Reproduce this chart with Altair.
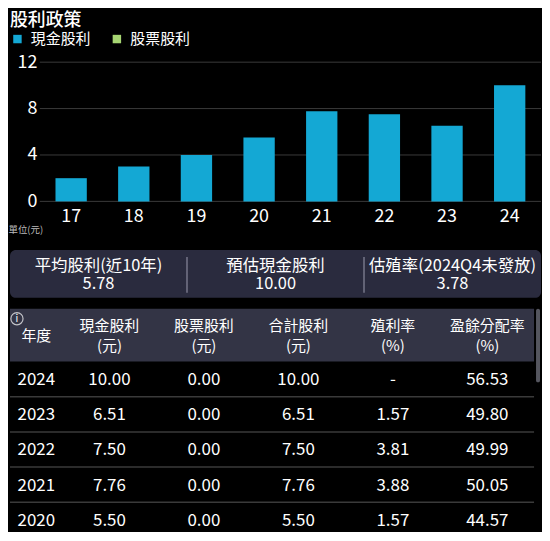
import altair as alt
import pandas as pd

FONT = "Noto Sans CJK TC"

# ---------------- data ----------------
bar_years = ["17", "18", "19", "20", "21", "22", "23", "24"]
cash_dividend = [2.0, 3.0, 4.0, 5.5, 7.76, 7.5, 6.51, 10.0]
stock_dividend = [0.0, 0.0, 0.0, 0.0, 0.0, 0.0, 0.0, 0.0]
series_names = ["現金股利", "股票股利"]
series_colors = ["#14a8d4", "#a6d572"]
y_ticks = [0, 4, 8, 12]

summary_labels = ["平均股利(近10年)", "預估現金股利", "估殖率(2024Q4未發放)"]
summary_values = ["5.78", "10.00", "3.78"]

header_line1 = ["現金股利", "股票股利", "合計股利", "殖利率", "盈餘分配率"]
header_line2 = ["(元)", "(元)", "(元)", "(%)", "(%)"]
header_single = ["年度"]

table_years = ["2024", "2023", "2022", "2021", "2020"]
table_cash = ["10.00", "6.51", "7.50", "7.76", "5.50"]
table_stock = ["0.00", "0.00", "0.00", "0.00", "0.00"]
table_total = ["10.00", "6.51", "7.50", "7.76", "5.50"]
table_yield = ["-", "1.57", "3.81", "3.88", "1.57"]
table_payout = ["56.53", "49.80", "49.99", "50.05", "44.57"]

# ---------------- tables for the library ----------------
bar_df = pd.DataFrame({
    "year": bar_years * 2,
    "series": [series_names[0]] * len(bar_years) + [series_names[1]] * len(bar_years),
    "value": cash_dividend + stock_dividend,
    "order": [0] * len(bar_years) + [1] * len(bar_years),
})
tick_df = pd.DataFrame({"tick": y_ticks})

summ_df = pd.DataFrame({"k": summary_labels, "v": summary_values})

hdr2_df = pd.DataFrame({"col": list(range(1, 6)), "l1": header_line1, "l2": header_line2})
hdr1_df = pd.DataFrame({"col": [0], "l1": header_single})

columns = [table_years, table_cash, table_stock, table_total, table_yield, table_payout]
body_records = []
for ri, yr in enumerate(table_years):
    for ci, colvals in enumerate(columns):
        body_records.append({"row": yr, "col": ci, "text": colvals[ri]})
body_df = pd.DataFrame(body_records)
sep_df = pd.DataFrame({"row": table_years[:-1]})

# layout constants
FULL_W = 534          # full content width (page x 8 .. 542)
PLOT_L = 30           # left edge of the bar plot region inside the full width
PLOT_R = 534
TABLE_W = 527
ROW_H = 35.4
col_scale = alt.Scale(domain=[0, 1, 5], range=[26.5, 100, 480])

# ---------------- chart 1: bars ----------------
y_enc = alt.Y("value:Q", stack="zero", scale=alt.Scale(domain=[0, 12]),
              axis=alt.Axis(values=y_ticks, labelFontSize=18, labelColor="#ffffff", labelPadding=3,
                            ticks=False, domain=False, grid=False, offset=-PLOT_L,
                            labelFont=FONT,
                            title="單位(元)", titleAngle=0, titleX=-PLOT_L - 2, titleY=168,
                            titleAlign="left", titleBaseline="middle", titleFontSize=9.5,
                            titleColor="#bbbbbb", titleFontWeight="normal", titleFont=FONT))

grid = alt.Chart(tick_df).mark_rule(color="#3a3a3a", strokeWidth=1).encode(
    y=alt.Y("tick:Q"), x=alt.value(PLOT_L), x2=alt.value(PLOT_R))

bars = alt.Chart(bar_df).mark_bar().encode(
    x=alt.X("year:N", sort=bar_years,
            scale=alt.Scale(paddingInner=0.5, paddingOuter=0.25, range=[PLOT_L, PLOT_R]),
            axis=alt.Axis(title=None, labelAngle=0, labelFontSize=18, labelColor="#ffffff",
                          labelPadding=6, ticks=False, domain=False, labelFont=FONT)),
    y=y_enc,
    color=alt.Color("series:N", scale=alt.Scale(domain=series_names, range=series_colors),
                    legend=alt.Legend(title=None, orient="top", direction="horizontal",
                                      offset=6, padding=0, symbolType="square",
                                      symbolSize=72, symbolStrokeWidth=0, labelFontSize=15,
                                      labelColor="#ffffff", labelOffset=6, columnPadding=18,
                                      labelFont=FONT)),
    order=alt.Order("order:Q"),
)

top = alt.layer(grid, bars).properties(width=FULL_W, height=140)

# ---------------- chart 2: summary panel ----------------
sx = alt.X("k:N", sort=summary_labels, axis=None,
           scale=alt.Scale(domain=summary_labels, paddingInner=0, paddingOuter=0))
summ_base = alt.Chart(summ_df)
summ_lab = summ_base.mark_text(fontSize=16.5, color="#ffffff", baseline="middle", font=FONT).encode(
    x=sx, y=alt.value(16.5), text="k:N")
summ_val = summ_base.mark_text(fontSize=16.5, color="#ffffff", baseline="middle", font=FONT).encode(
    x=sx, y=alt.value(34.5), text="v:N")
summ_sep = alt.Chart(summ_df.iloc[1:]).mark_rule(color="#77778a", strokeWidth=1.5).encode(
    x=alt.X("k:N", sort=summary_labels, axis=None, bandPosition=0,
            scale=alt.Scale(domain=summary_labels, paddingInner=0, paddingOuter=0)),
    y=alt.value(7), y2=alt.value(43))
panel = alt.layer(summ_sep, summ_lab, summ_val).properties(
    width=FULL_W, height=48,
    view=alt.ViewBackground(fill="#2a2b3e", cornerRadius=6, strokeWidth=0))

# ---------------- chart 3: table header ----------------
hx = alt.X("col:Q", scale=col_scale, axis=None)
h_l1 = alt.Chart(hdr2_df).mark_text(fontSize=15, color="#ffffff", baseline="middle", font=FONT).encode(
    x=hx, y=alt.value(17.5), text="l1:N")
h_l2 = alt.Chart(hdr2_df).mark_text(fontSize=15, color="#ffffff", baseline="middle", font=FONT).encode(
    x=hx, y=alt.value(37.5), text="l2:N")
h_one = alt.Chart(hdr1_df).mark_text(fontSize=15, color="#ffffff", baseline="middle", font=FONT).encode(
    x=hx, y=alt.value(27), text="l1:N")
icon = alt.Chart(hdr1_df).mark_point(shape="circle", filled=False, size=150, color="#ffffff",
                                     strokeWidth=1.2).encode(x=alt.value(7), y=alt.value(10))
icon_i = alt.Chart(hdr1_df).mark_text(text="i", fontSize=10, color="#ffffff", baseline="middle",
                                      font=FONT).encode(x=alt.value(7), y=alt.value(10))
scrollbar = alt.Chart(hdr1_df).mark_rect(color="#55565f", cornerRadius=2).encode(
    x=alt.value(529), x2=alt.value(533), y=alt.value(0), y2=alt.value(74))
header = alt.layer(h_l1, h_l2, h_one, icon, icon_i, scrollbar).properties(
    width=TABLE_W, height=53,
    view=alt.ViewBackground(fill="#333445", strokeWidth=0))

# ---------------- chart 4: table body ----------------
row_scale = alt.Scale(domain=table_years, paddingInner=0, paddingOuter=0,
                      range=[0, ROW_H * len(table_years)])
body_text = alt.Chart(body_df).mark_text(fontSize=17, color="#ffffff", baseline="middle",
                                         dy=1, font=FONT).encode(
    x=alt.X("col:Q", scale=col_scale, axis=None),
    y=alt.Y("row:N", sort=table_years, axis=None, scale=row_scale),
    text="text:N")
body_sep = alt.Chart(sep_df).mark_rule(color="#3a3a3a", strokeWidth=1.5).encode(
    y=alt.Y("row:N", sort=table_years, axis=None, bandPosition=1, scale=row_scale))
body = alt.layer(body_sep, body_text).properties(width=TABLE_W, height=170)

table = alt.vconcat(header, body, spacing=0, bounds="flush")
lower = alt.vconcat(panel, table, spacing=11)

chart = alt.vconcat(top, lower, spacing=16).properties(
    padding={"top": 3, "left": 0, "right": 0, "bottom": 0}, background="#000000",
    title=alt.TitleParams("股利政策", anchor="start", frame="bounds", fontSize=18,
                          fontWeight=500, color="#ffffff", offset=1, font=FONT, dx=2),
).configure(font=FONT).configure_view(strokeWidth=0)

chart.save("out.html", embed_options={"renderer": "svg", "actions": False})
